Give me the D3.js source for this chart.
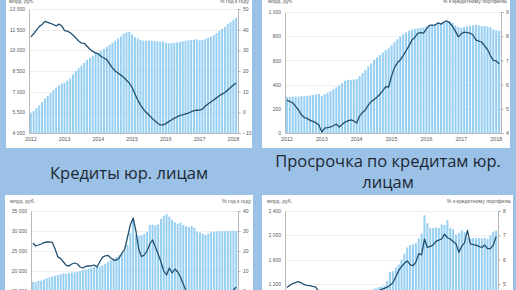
<!DOCTYPE html>
<html>
<head>
<meta charset="utf-8">
<script src="https://cdn.jsdelivr.net/npm/d3@7"></script>
<style>
body { margin: 0; background: #9bc2e6; }
svg { display: block; }
.small { font-family: "Liberation Sans Narrow", "Liberation Sans", Arial, sans-serif; fill: #595959; }
.title { font-family: "Open Sans", "Noto Sans", sans-serif; fill: #1c2834; }
</style>
</head>
<body>
<svg id="chart" width="516" height="290"></svg>
<script>
// месяцы: январь 2012 - февраль 2018
var months = d3.timeMonth.range(new Date(2012, 0, 1), new Date(2018, 2, 1));
var years = ["2012", "2013", "2014", "2015", "2016", "2017", "2018"];

// розничные кредиты, млрд руб. и % год к году
var retailVolume = [5450,5600,5800,6000,6250,6500,6700,6900,7100,7300,7450,7600,
  7650,7800,7950,8250,8500,8700,8900,9100,9300,9450,9600,9850,
  9850,9950,10100,10250,10400,10550,10700,10850,11000,11200,11300,11330,
  11150,10950,10850,10750,10700,10700,10720,10700,10680,10650,10620,10650,
  10550,10520,10530,10550,10580,10620,10660,10700,10720,10750,10780,10800,
  10720,10750,10820,10900,10980,11100,11250,11400,11550,11700,11900,12050,
  12200,12350];
var retailGrowth = [36.5,38,39.8,41.5,42.5,44,43.5,43,42.5,41.8,42.7,41.8,
  39.5,39.3,38.5,37.4,36,34.5,33.5,33.4,32,30.5,29.5,28.8,
  28.2,27,26.3,25.5,23.5,21.5,20,19,18,17,15.5,14.2,
  12,9,6,3.5,1.5,0,-1.3,-2.7,-4,-5.2,-6.1,-6.1,
  -5.5,-4.5,-3.7,-2.8,-2.2,-1.5,-1.2,-0.8,-0.4,0.3,0.8,1,
  1.1,1.5,3,4,5,6,7,8,8.8,9.6,10.8,12,
  13.2,14.2];

// просрочка по розничным кредитам, млрд руб. и % к портфелю
var retailOverdue = [297,298,300,302,300,305,303,308,310,314,318,322,
  305,320,332,345,362,378,395,412,432,438,440,442,
  445,470,495,520,550,575,605,625,645,665,686,700,
  725,750,775,795,815,830,845,852,860,866,870,872,
  880,888,893,895,898,902,908,915,926,910,890,876,
  868,876,882,885,890,893,888,885,884,880,873,855,
  848,845];
var retailOverdueShare = [5.36,5.3,5.25,5.1,4.95,4.75,4.64,4.6,4.52,4.48,4.42,4.33,
  4.04,4.2,4.22,4.25,4.3,4.37,4.25,4.35,4.45,4.5,4.54,4.5,
  4.41,4.7,4.85,4.95,5.15,5.3,5.38,5.48,5.6,5.75,5.92,5.9,
  6.35,6.7,6.9,7.02,7.2,7.4,7.6,7.84,7.95,8.12,8.15,8.13,
  8.3,8.45,8.46,8.46,8.55,8.5,8.58,8.63,8.55,8.4,8.2,7.97,
  8.1,8.17,8.15,8.13,8.05,7.85,7.8,7.76,7.6,7.45,7.2,7.0,
  6.98,6.85];

// кредиты юр. лицам, млрд руб. и % год к году
var corpVolume = [17300,17200,17500,17600,17900,18200,18400,18600,18800,19000,19200,19400,
  19300,19500,19600,19700,19800,20000,20200,20400,20600,20800,21000,21200,
  21100,21400,21800,22200,22700,23100,23500,24000,24600,25300,26500,29500,
  32500,29000,28800,29000,29300,29800,31500,31600,31400,31700,33000,33800,
  34200,33600,32800,32200,31800,32100,31500,31200,31000,31300,30800,29800,
  29600,29300,29000,29400,29700,29800,29900,29900,30000,29900,30000,30000,
  30100,30000];
var corpGrowth = [24,22.5,23,23.5,24.2,24.5,24.6,24.3,21,17,16.2,14.5,
  12.8,12.5,13.5,14,13.5,12,11.5,12.3,12.5,12.6,13,12,
  14.5,16.8,17.6,17.8,16.5,15.5,15.4,16.5,19,21,27,33,
  36.5,30,21,17.2,18,20,23.5,25.5,22,18.5,14.5,10,
  8,11.5,9,11,9.5,7,3.5,0,-3,-4.5,-5.5,-6,
  -6.5,-6.5,-6,-6,-5.5,-5,-4.5,-4,-3.5,-2.5,-1.5,-0.5,
  0.5,2];

// просрочка по кредитам юр. лицам, млрд руб. и % к портфелю
var corpOverdue = [900,910,920,930,935,940,950,955,960,965,970,980,
  975,985,990,995,1000,1005,1010,1015,1020,1025,1030,1040,
  1030,1040,1050,1055,1060,1070,1110,1130,1150,1160,1170,1250,
  1400,1410,1470,1520,1600,1700,1800,1840,1850,1870,1950,2030,
  2330,2200,2120,2120,2130,2120,2180,2170,2250,2120,2100,2010,
  2040,2080,2050,1960,1950,1960,1950,1955,1950,1960,1940,2000,
  2060,2080];
var corpOverdueShare = [4.86,4.94,5.02,5.06,5.1,5.05,4.98,4.94,4.93,4.9,4.88,4.72,
  4.6,4.55,4.5,4.48,4.45,4.42,4.4,4.42,4.45,4.5,4.48,4.45,
  4.5,4.52,4.55,4.58,4.6,4.62,4.65,4.68,4.72,4.78,4.82,4.87,
  4.95,5.05,5.3,5.55,5.72,5.85,5.95,5.8,5.75,5.9,6.25,6.2,
  6.85,6.5,6.55,6.6,6.75,6.8,6.85,7.05,6.9,6.85,6.75,6.65,
  6.3,6.55,6.7,7.2,6.65,6.62,6.6,6.55,6.5,6.6,6.45,6.45,
  6.6,6.95];

var retailLeftTicks = [4000,5500,7000,8500,10000,11500,13000];
var retailRightTicks = [-10,0,10,20,30,40,50];
var retailOverdueLeftTicks = [0,200,400,600,800,1000];
var retailOverdueRightTicks = [4,5,6,7,8,9];
var corpLeftTicks = [10000,15000,20000,25000,30000,35000];
var corpRightTicks = [-10,0,10,20,30,40];
var corpOverdueLeftTicks = [0,400,800,1200,1600,2000,2400];
var corpOverdueRightTicks = [2,3,4,5,6,7,8];

var unitLeft = "млрд. руб.";
var unitGrowth = "% год к году";
var unitShare = "% к кредитному портфелю";
var titleCorp = "Кредиты юр. лицам";
var titleOverdue = ["Просрочка по кредитам юр.", "лицам"];

var fmt = d3.formatLocale({decimal: ",", thousands: " ", grouping: [3], currency: ["", ""]}).format(",d");

var svg = d3.select("#chart");

function drawPanel(p) {
    svg.append("rect")
        .attr("x", p.box[0]).attr("y", p.box[1])
        .attr("width", p.box[2]).attr("height", p.box[3])
        .attr("fill", "#fff");

    var g = svg.append("g");

    var x = d3.scaleBand()
        .domain(d3.range(months.length))
        .range([p.plot.l, p.plot.r])
        .padding(0.3);
    var yL = d3.scaleLinear().domain(p.leftDomain).range([p.plot.b, p.plot.t]);
    var yR = d3.scaleLinear().domain(p.rightDomain).range([p.plot.b, p.plot.t]);

    // сетка
    g.selectAll("line.grid")
        .data(p.leftTicks.slice(1))
        .enter().append("line")
        .attr("x1", p.plot.l).attr("x2", p.plot.r)
        .attr("y1", function(d) { return Math.round(yL(d)) + 0.5; })
        .attr("y2", function(d) { return Math.round(yL(d)) + 0.5; })
        .attr("stroke", "#e6e6e6")
        .attr("stroke-width", 0.7);

    // столбики
    g.selectAll("rect.bar")
        .data(p.bars)
        .enter().append("rect")
        .attr("x", function(d, i) { return x(i); })
        .attr("width", x.bandwidth())
        .attr("y", function(d) { return yL(d); })
        .attr("height", function(d) { return p.plot.b - yL(d); })
        .attr("fill", "#96cff2");

    // линия
    var line = d3.line()
        .x(function(d, i) { return x(i) + x.bandwidth() / 2; })
        .y(function(d) { return yR(d); })
        .curve(d3.curveLinear);

    g.append("path")
        .datum(p.line)
        .attr("d", line)
        .attr("fill", "none")
        .attr("stroke", "#21506f")
        .attr("stroke-width", 1.3)
        .attr("stroke-linejoin", "round");

    // оси
    var axL = g.append("g")
        .attr("transform", "translate(" + p.plot.l + ",0)")
        .call(d3.axisLeft(yL).tickValues(p.leftTicks).tickSize(0).tickPadding(4).tickFormat(fmt));
    var axR = g.append("g")
        .attr("transform", "translate(" + p.plot.r + ",0)")
        .call(d3.axisRight(yR).tickValues(p.rightTicks).tickSize(2.5).tickPadding(2.5).tickFormat(d3.format("d")));
    var axB = g.append("g")
        .attr("transform", "translate(0," + p.plot.b + ")")
        .call(d3.axisBottom(x).tickValues(d3.range(0, months.length, 12)).tickSize(0).tickPadding(4)
            .tickFormat(function(i) { return years[i / 12]; }));

    [axL, axR, axB].forEach(function(a) {
        a.selectAll("path.domain").attr("stroke", "#a6a6a6").attr("stroke-width", 0.8);
        a.selectAll("line").attr("stroke", "#a6a6a6").attr("stroke-width", 0.8);
        a.selectAll("text").attr("class", "small").attr("font-size", 5).attr("fill", "#595959")
            .style("font-family", null);
    });
    axB.selectAll("text").attr("font-size", 5.3);

    // подписи единиц
    svg.append("text").attr("class", "small")
        .attr("x", p.unitY[0]).attr("y", p.unitY[1])
        .attr("font-size", 5.2)
        .text(unitLeft);
    svg.append("text").attr("class", "small")
        .attr("x", p.unitY[2]).attr("y", p.unitY[1])
        .attr("font-size", 5.2)
        .attr("text-anchor", "end")
        .text(p.rightUnit);
}

var panels = [
    {box: [6, -10, 246, 158], plot: {l: 29, r: 238, t: 9, b: 133},
     leftDomain: [4000, 13000], rightDomain: [-10, 50],
     leftTicks: retailLeftTicks, rightTicks: retailRightTicks,
     bars: retailVolume, line: retailGrowth,
     unitY: [9, 3, 249], rightUnit: unitGrowth},
    {box: [262, -10, 248, 158], plot: {l: 285, r: 501, t: 12, b: 133},
     leftDomain: [0, 1000], rightDomain: [4, 9],
     leftTicks: retailOverdueLeftTicks, rightTicks: retailOverdueRightTicks,
     bars: retailOverdue, line: retailOverdueShare,
     unitY: [268, 3, 507], rightUnit: unitShare},
    {box: [5, 195, 248, 120], plot: {l: 31, r: 238, t: 211, b: 311},
     leftDomain: [10000, 35000], rightDomain: [-10, 40],
     leftTicks: corpLeftTicks, rightTicks: corpRightTicks,
     bars: corpVolume, line: corpGrowth,
     unitY: [10, 203, 251], rightUnit: unitGrowth},
    {box: [262, 195, 251, 120], plot: {l: 285, r: 498, t: 211, b: 357},
     leftDomain: [0, 2400], rightDomain: [2, 8],
     leftTicks: corpOverdueLeftTicks, rightTicks: corpOverdueRightTicks,
     bars: corpOverdue, line: corpOverdueShare,
     unitY: [267, 203, 511], rightUnit: unitShare}
];

panels.forEach(drawPanel);

// заголовки
svg.append("text").attr("class", "title")
    .attr("x", 129).attr("y", 178.5)
    .attr("text-anchor", "middle")
    .attr("font-size", 16.5)
    .text(titleCorp);

svg.selectAll("text.t2")
    .data(titleOverdue)
    .enter().append("text")
    .attr("class", "title")
    .attr("x", 388)
    .attr("y", function(d, i) { return 166.5 + i * 21.7; })
    .attr("text-anchor", "middle")
    .attr("font-size", 16.5)
    .text(function(d) { return d; });
</script>
</body>
</html>
